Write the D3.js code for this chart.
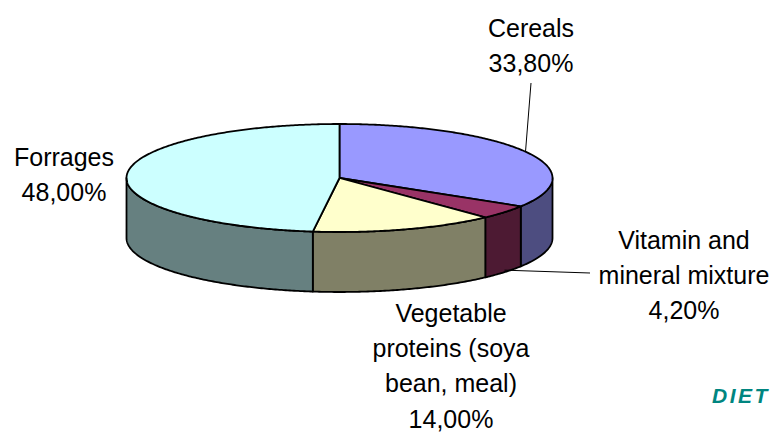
<!DOCTYPE html>
<html>
<head>
<meta charset="utf-8">
<script src="https://cdn.jsdelivr.net/npm/d3@7"></script>
<style>
  html, body { margin: 0; padding: 0; background: #fff; }
  svg { display: block; }
  text { font-family: "Liberation Sans", Arial, sans-serif; }
</style>
</head>
<body>
<svg id="chart" width="774" height="432"></svg>
<script>
// ---- data ----
const categories = ["Cereals", "Vitamin and mineral mixture", "Vegetable proteins (soya bean, meal)", "Forrages"];
const labelLines = [["Cereals"], ["Vitamin and", "mineral mixture"], ["Vegetable", "proteins (soya", "bean, meal)"], ["Forrages"]];
const values = [33.8, 4.2, 14.0, 48.0];
const topColors = ["#9999FF", "#993366", "#FFFFCC", "#CCFFFF"];
const sideColors = ["#4D4D80", "#4D1A33", "#808066", "#668080"];

// ---- layout ----
const W = 774, H = 432;
const cx = 339.5, cy = 178, rx = 213, ry = 54, depth = 60;
const svg = d3.select("#chart");

const x = d3.scaleLinear().domain([-1, 1]).range([cx - rx, cx + rx]);
const y = d3.scaleLinear().domain([-1, 1]).range([cy - ry, cy + ry]);
const pt = (a, dz = 0) => [x(Math.sin(a)), y(-Math.cos(a)) + dz];

const locale = d3.formatLocale({decimal: ",", thousands: ".", grouping: [3], currency: ["", "€"]});
const fmt = v => locale.format(".2f")(v) + "%";

const arcs = d3.pie().sort(null).value(d => d).startAngle(0).endAngle(2 * Math.PI)(values);
const line = d3.line();

function samples(a0, a1, dz) {
  const n = Math.max(2, Math.ceil(Math.abs(a1 - a0) / 0.01));
  return d3.range(n + 1).map(i => pt(a0 + (a1 - a0) * i / n, dz));
}

// side walls (front half: angles pi/2 .. 3pi/2)
const gSide = svg.append("g");
arcs.forEach((d, i) => {
  const a0 = Math.max(d.startAngle, Math.PI / 2);
  const a1 = Math.min(d.endAngle, 3 * Math.PI / 2);
  if (a1 <= a0) return;
  const pts = samples(a0, a1, 0).concat(samples(a1, a0, depth));
  gSide.append("path")
    .attr("d", line(pts) + "Z")
    .attr("fill", sideColors[i])
    .attr("stroke", "#000")
    .attr("stroke-width", 1.8)
    .attr("stroke-linejoin", "round");
});

// top faces
const gTop = svg.append("g");
arcs.forEach((d, i) => {
  const pts = [[cx, cy]].concat(samples(d.startAngle, d.endAngle, 0));
  gTop.append("path")
    .attr("d", line(pts) + "Z")
    .attr("fill", topColors[i])
    .attr("stroke", "#000")
    .attr("stroke-width", 1.8)
    .attr("stroke-linejoin", "round");
});

// leader lines
const mid = d => (d.startAngle + d.endAngle) / 2;
const leaders = [
  {i: 0, from: pt(mid(arcs[0]), 0), to: [531, 83]},
  {i: 1, from: pt(mid(arcs[1]), depth - 2), to: [590, 273]}
];
svg.append("g").selectAll("line").data(leaders).join("line")
  .attr("x1", d => d.from[0]).attr("y1", d => d.from[1])
  .attr("x2", d => d.to[0]).attr("y2", d => d.to[1])
  .attr("stroke", "#000").attr("stroke-width", 1);

// labels
const labelPos = [[531, 37], [684, 249], [451, 322], [64, 166]];
const lh = 35.2;
const gLab = svg.append("g");
arcs.forEach((d, i) => {
  const lines = labelLines[i].concat([fmt(values[i])]);
  const t = gLab.append("text")
    .attr("text-anchor", "middle")
    .attr("font-size", 25)
    .attr("fill", "#000");
  lines.forEach((s, k) => {
    t.append("tspan").attr("x", labelPos[i][0]).attr("y", labelPos[i][1] + k * lh).text(s);
  });
});

// DIET mark
svg.append("text")
  .attr("x", 712).attr("y", 403)
  .attr("font-family", "'DejaVu Sans', Verdana, sans-serif")
  .attr("font-size", 21)
  .attr("font-weight", "bold")
  .attr("font-style", "italic")
  .attr("letter-spacing", 2.5)
  .attr("fill", "#008580")
  .text("DIET");
</script>
</body>
</html>
